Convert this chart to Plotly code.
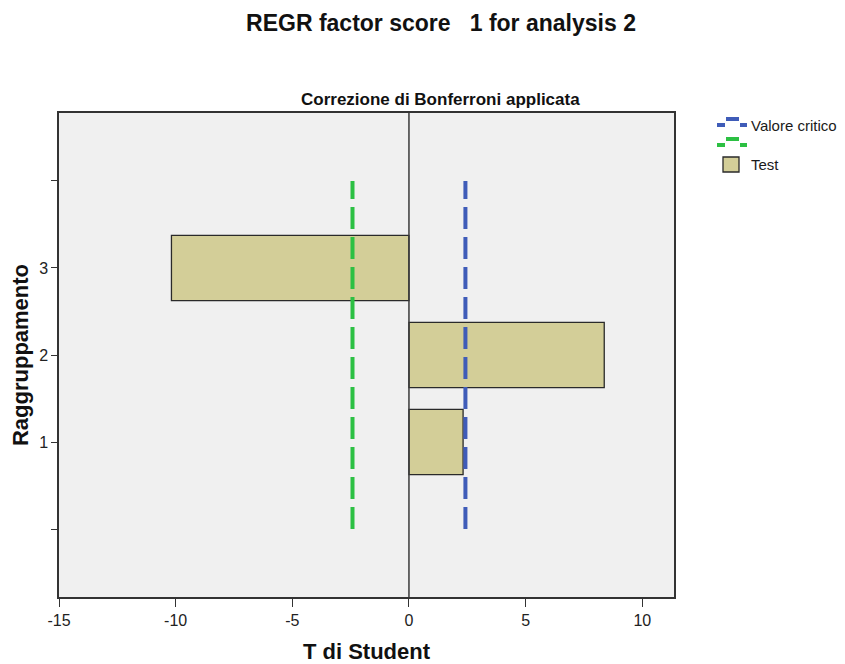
import plotly.graph_objects as go

groups = [1, 2, 3]
t_values = [2.32, 8.37, -10.18]
critical_value = 2.42
line_y = [0, 4]
x_ticks = [-15, -10, -5, 0, 5, 10]
x_ticktext = ["-15", "-10", "-5", "0", "5", "10"]
y_ticks = [0, 1, 2, 3, 4]
y_ticktext = ["", "1", "2", "3", ""]

FONT = "Liberation Sans, Arial, sans-serif"
OFF = 8  # default page body margin
W, H = 845 - OFF, 664 - OFF
# plot area in page pixels: x 59..674, y 113..597
L, T = 59 - OFF, 113 - OFF
R = W - (674 - OFF)
B = H - (597 - OFF)
pw, ph = W - L - R, H - T - B

def px(x):  # page pixel -> paper x
    return (x - OFF - L) / pw

def py(y):  # page pixel -> paper y
    return (H - B - (y - OFF)) / ph

fig = go.Figure()

fig.add_trace(go.Bar(
    x=t_values, y=groups, orientation="h", width=0.75,
    marker=dict(color="#d3ce98", line=dict(color="#2a2a2a", width=1.3)),
    name="Test", showlegend=False,
))

fig.add_trace(go.Scatter(
    x=[-critical_value, -critical_value], y=line_y, mode="lines",
    line=dict(color="#2cc043", width=4, dash="22px,8px"), showlegend=False,
))
fig.add_trace(go.Scatter(
    x=[critical_value, critical_value], y=line_y, mode="lines",
    line=dict(color="#3f5cb8", width=4, dash="22px,8px"), showlegend=False,
))

shapes = [
    dict(type="line", xref="x", yref="paper", x0=0, x1=0, y0=0, y1=1,
         line=dict(color="#3a3a3a", width=1.5), layer="above"),
]

def dash_symbol(low_y, high_y, color):
    out = []
    for (x0, x1, cy) in [(717, 725, low_y), (726, 739, high_y), (740, 747, low_y)]:
        out.append(dict(type="rect", xref="paper", yref="paper",
                        x0=px(x0), x1=px(x1), y0=py(cy + 2), y1=py(cy - 2),
                        fillcolor=color, line=dict(width=0)))
    return out

shapes += dash_symbol(125, 119, "#3f5cb8")
shapes += dash_symbol(145, 139, "#2cc043")
shapes.append(dict(type="rect", xref="paper", yref="paper",
                   x0=px(723), x1=px(739), y0=py(172), y1=py(157),
                   fillcolor="#d3ce98", line=dict(color="#2a2a2a", width=1.3)))

annotations = [
    dict(text="Valore critico", xref="paper", yref="paper", x=px(749), y=py(125),
         xanchor="left", yanchor="middle", showarrow=False,
         font=dict(family=FONT, size=15, color="#1a1a1a")),
    dict(text="Test", xref="paper", yref="paper", x=px(749), y=py(164),
         xanchor="left", yanchor="middle", showarrow=False,
         font=dict(family=FONT, size=15, color="#1a1a1a")),
    dict(text="<b>Correzione di Bonferroni applicata</b>", xref="paper", yref="paper",
         x=px(440), y=py(100), xanchor="center", yanchor="middle", showarrow=False,
         font=dict(family=FONT, size=17, color="#111")),
]

fig.update_layout(
    width=W, height=H,
    margin=dict(l=L, r=R, t=T, b=B, autoexpand=False),
    paper_bgcolor="white", plot_bgcolor="#f0f0f0",
    title=dict(text="<b>REGR factor score   1 for analysis 2</b>", x=(441 - OFF) / W,
               xanchor="center", y=1 - (23 - OFF) / H, yanchor="middle",
               font=dict(family=FONT, size=23, color="#111")),
    showlegend=False,
    shapes=shapes, annotations=annotations,
    xaxis=dict(range=[-15, 11.36], tickvals=x_ticks, ticktext=x_ticktext,
               showgrid=False, zeroline=False, automargin=False,
               ticks="outside", ticklen=8, tickwidth=1.3, tickcolor="#333",
               showline=True, linecolor="#333", linewidth=1.5, mirror=True,
               tickfont=dict(family=FONT, size=16, color="#222"),
               title=dict(text="<b>T di Student</b>", standoff=19,
                          font=dict(family=FONT, size=22, color="#111"))),
    yaxis=dict(range=[-0.78, 4.78], tickvals=y_ticks, ticktext=y_ticktext, showgrid=False,
               zeroline=False, automargin=False, ticks="outside", ticklen=6, tickwidth=1.3,
               tickcolor="#333",
               showline=True, linecolor="#333", linewidth=1.5, mirror=True,
               tickfont=dict(family=FONT, size=16, color="#222"),
               title=dict(text="<b>Raggruppamento</b>", standoff=6,
                          font=dict(family=FONT, size=22, color="#111"))),
)

fig.write_html("out.html")
